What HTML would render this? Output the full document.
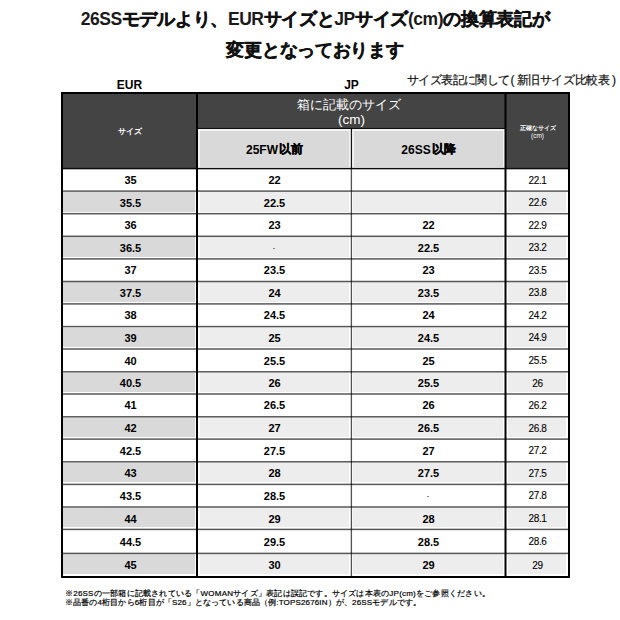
<!DOCTYPE html>
<html lang="ja"><head><meta charset="utf-8"><style>
*{margin:0;padding:0;box-sizing:border-box}
html,body{width:620px;height:620px;background:#fff;overflow:hidden}
body{position:relative;font-family:"Liberation Sans",sans-serif;color:#111}
.a{position:absolute}
.t{position:absolute;white-space:nowrap;text-align:center}
.c{position:absolute;display:flex;align-items:center;justify-content:center;white-space:nowrap}
.b{font-weight:bold;font-size:11px;color:#000}
.r{font-size:10px;letter-spacing:-0.4px;padding:0;color:#000;-webkit-text-stroke:0.1px #000}
.k{-webkit-text-stroke:0.45px #111;letter-spacing:-0.3px}
.l{letter-spacing:-0.45px}
.k2{-webkit-text-stroke:0.35px #000;margin-left:1px}
</style></head><body>

<div class="t" style="left:0;width:630px;top:4px;font-size:17.5px;font-weight:bold;line-height:31px;color:#1a1a1a"><span class="l">26SS</span><span class="k">モデルより、</span><span class="l">EUR</span><span class="k">サイズと</span><span class="l">JP</span><span class="k">サイズ</span><span class="l">(cm)</span><span class="k">の換算表記が</span><br><span class="k">変更となっております</span></div>
<div class="t b" style="left:63px;width:133px;top:78px;font-size:12px;line-height:14px">EUR</div>
<div class="t b" style="left:198px;width:307px;top:78px;font-size:12px;line-height:14px">JP</div>
<div class="t" style="left:407px;top:72px;font-size:12px;letter-spacing:-0.6px;line-height:16px;color:#111;-webkit-text-stroke:0.2px #111">サイズ表記に関して<span style="letter-spacing:0;margin:0 2px 0 1px">(</span><span style="letter-spacing:-0.4px">新旧サイズ比較表</span><span style="letter-spacing:0;margin-left:2.5px">)</span></div>
<div class="a" style="left:61px;top:92px;width:509px;height:77px;background:#444444"></div>
<div class="a" style="left:198px;top:129px;width:153px;height:39px;background:#f2f2f2"></div>
<div class="a" style="left:200px;top:131px;width:149px;height:36px;background:#d9d9d9"></div>
<div class="a" style="left:352px;top:129px;width:153px;height:39px;background:#f2f2f2"></div>
<div class="a" style="left:354px;top:131px;width:149px;height:36px;background:#d9d9d9"></div>
<div class="c" style="left:63px;top:94px;width:133px;height:74px;color:#fff;font-size:8px;font-weight:bold">サイズ</div>
<div class="t" style="left:198px;top:97px;width:307px;color:#fff;font-size:13px;line-height:15px"><span style="position:relative;left:-2.5px">箱に記載のサイズ</span><br><span style="font-size:13.5px">(cm)</span></div>
<div class="c b" style="left:198px;top:130px;width:153px;height:39px;font-size:12px">25FW<span class="k2">以前</span></div>
<div class="c b" style="left:352px;top:130px;width:153px;height:39px;font-size:12px">26SS<span class="k2">以降</span></div>
<div class="t" style="left:507px;top:123.5px;width:61px;color:#fff;font-size:6px;line-height:8px;font-weight:bold">正確なサイズ<br><span style="font-weight:normal;font-size:6.5px">(cm)</span></div>
<div class="a" style="left:63px;top:192px;width:132px;height:20px;background:#d9d9d9"></div>
<div class="a" style="left:200px;top:192px;width:149px;height:20px;background:#ededed"></div>
<div class="a" style="left:353px;top:192px;width:150px;height:20px;background:#ededed"></div>
<div class="a" style="left:508px;top:192px;width:58px;height:20px;background:#ededed"></div>
<div class="a" style="left:63px;top:237px;width:132px;height:20px;background:#d9d9d9"></div>
<div class="a" style="left:200px;top:237px;width:149px;height:20px;background:#ededed"></div>
<div class="a" style="left:353px;top:237px;width:150px;height:20px;background:#ededed"></div>
<div class="a" style="left:508px;top:237px;width:58px;height:20px;background:#ededed"></div>
<div class="a" style="left:63px;top:282px;width:132px;height:20px;background:#d9d9d9"></div>
<div class="a" style="left:200px;top:282px;width:149px;height:20px;background:#ededed"></div>
<div class="a" style="left:353px;top:282px;width:150px;height:20px;background:#ededed"></div>
<div class="a" style="left:508px;top:282px;width:58px;height:20px;background:#ededed"></div>
<div class="a" style="left:63px;top:328px;width:132px;height:19px;background:#d9d9d9"></div>
<div class="a" style="left:200px;top:328px;width:149px;height:19px;background:#ededed"></div>
<div class="a" style="left:353px;top:328px;width:150px;height:19px;background:#ededed"></div>
<div class="a" style="left:508px;top:328px;width:58px;height:19px;background:#ededed"></div>
<div class="a" style="left:63px;top:373px;width:132px;height:19px;background:#d9d9d9"></div>
<div class="a" style="left:200px;top:373px;width:149px;height:19px;background:#ededed"></div>
<div class="a" style="left:353px;top:373px;width:150px;height:19px;background:#ededed"></div>
<div class="a" style="left:508px;top:373px;width:58px;height:19px;background:#ededed"></div>
<div class="a" style="left:63px;top:418px;width:132px;height:19px;background:#d9d9d9"></div>
<div class="a" style="left:200px;top:418px;width:149px;height:19px;background:#ededed"></div>
<div class="a" style="left:353px;top:418px;width:150px;height:19px;background:#ededed"></div>
<div class="a" style="left:508px;top:418px;width:58px;height:19px;background:#ededed"></div>
<div class="a" style="left:63px;top:463px;width:132px;height:19px;background:#d9d9d9"></div>
<div class="a" style="left:200px;top:463px;width:149px;height:19px;background:#ededed"></div>
<div class="a" style="left:353px;top:463px;width:150px;height:19px;background:#ededed"></div>
<div class="a" style="left:508px;top:463px;width:58px;height:19px;background:#ededed"></div>
<div class="a" style="left:63px;top:508px;width:132px;height:19px;background:#d9d9d9"></div>
<div class="a" style="left:200px;top:508px;width:149px;height:19px;background:#ededed"></div>
<div class="a" style="left:353px;top:508px;width:150px;height:19px;background:#ededed"></div>
<div class="a" style="left:508px;top:508px;width:58px;height:19px;background:#ededed"></div>
<div class="a" style="left:63px;top:554px;width:132px;height:20px;background:#d9d9d9"></div>
<div class="a" style="left:200px;top:554px;width:149px;height:20px;background:#ededed"></div>
<div class="a" style="left:353px;top:554px;width:150px;height:20px;background:#ededed"></div>
<div class="a" style="left:508px;top:554px;width:58px;height:20px;background:#ededed"></div>
<div class="c b" style="left:64px;top:169px;width:133px;height:22px">35</div>
<div class="c b" style="left:198px;top:169px;width:153px;height:22px">22</div>
<div class="c r" style="left:507px;top:169px;width:61px;height:22px">22.1</div>
<div class="c b" style="left:64px;top:192px;width:133px;height:21px">35.5</div>
<div class="c b" style="left:198px;top:192px;width:153px;height:21px">22.5</div>
<div class="c r" style="left:507px;top:192px;width:61px;height:21px">22.6</div>
<div class="c b" style="left:64px;top:214px;width:133px;height:22px">36</div>
<div class="c b" style="left:198px;top:214px;width:153px;height:22px">23</div>
<div class="c b" style="left:352px;top:214px;width:153px;height:22px">22</div>
<div class="c r" style="left:507px;top:214px;width:61px;height:22px">22.9</div>
<div class="c b" style="left:64px;top:237px;width:133px;height:21px">36.5</div>
<div class="c" style="left:198px;top:237px;width:153px;height:21px"><span style="display:block;width:2px;height:1px;margin:2px 1px 0 0;background:#888"></span></div>
<div class="c b" style="left:352px;top:237px;width:153px;height:21px">22.5</div>
<div class="c r" style="left:507px;top:237px;width:61px;height:21px">23.2</div>
<div class="c b" style="left:64px;top:259px;width:133px;height:22px">37</div>
<div class="c b" style="left:198px;top:259px;width:153px;height:22px">23.5</div>
<div class="c b" style="left:352px;top:259px;width:153px;height:22px">23</div>
<div class="c r" style="left:507px;top:259px;width:61px;height:22px">23.5</div>
<div class="c b" style="left:64px;top:282px;width:133px;height:21px">37.5</div>
<div class="c b" style="left:198px;top:282px;width:153px;height:21px">24</div>
<div class="c b" style="left:352px;top:282px;width:153px;height:21px">23.5</div>
<div class="c r" style="left:507px;top:282px;width:61px;height:21px">23.8</div>
<div class="c b" style="left:64px;top:304px;width:133px;height:22px">38</div>
<div class="c b" style="left:198px;top:304px;width:153px;height:22px">24.5</div>
<div class="c b" style="left:352px;top:304px;width:153px;height:22px">24</div>
<div class="c r" style="left:507px;top:304px;width:61px;height:22px">24.2</div>
<div class="c b" style="left:64px;top:327px;width:133px;height:21px">39</div>
<div class="c b" style="left:198px;top:327px;width:153px;height:21px">25</div>
<div class="c b" style="left:352px;top:327px;width:153px;height:21px">24.5</div>
<div class="c r" style="left:507px;top:327px;width:61px;height:21px">24.9</div>
<div class="c b" style="left:64px;top:350px;width:133px;height:21px">40</div>
<div class="c b" style="left:198px;top:350px;width:153px;height:21px">25.5</div>
<div class="c b" style="left:352px;top:350px;width:153px;height:21px">25</div>
<div class="c r" style="left:507px;top:350px;width:61px;height:21px">25.5</div>
<div class="c b" style="left:64px;top:372px;width:133px;height:22px">40.5</div>
<div class="c b" style="left:198px;top:372px;width:153px;height:22px">26</div>
<div class="c b" style="left:352px;top:372px;width:153px;height:22px">25.5</div>
<div class="c r" style="left:507px;top:372px;width:61px;height:22px">26</div>
<div class="c b" style="left:64px;top:394px;width:133px;height:22px">41</div>
<div class="c b" style="left:198px;top:394px;width:153px;height:22px">26.5</div>
<div class="c b" style="left:352px;top:394px;width:153px;height:22px">26</div>
<div class="c r" style="left:507px;top:394px;width:61px;height:22px">26.2</div>
<div class="c b" style="left:64px;top:417px;width:133px;height:22px">42</div>
<div class="c b" style="left:198px;top:417px;width:153px;height:22px">27</div>
<div class="c b" style="left:352px;top:417px;width:153px;height:22px">26.5</div>
<div class="c r" style="left:507px;top:417px;width:61px;height:22px">26.8</div>
<div class="c b" style="left:64px;top:440px;width:133px;height:21px">42.5</div>
<div class="c b" style="left:198px;top:440px;width:153px;height:21px">27.5</div>
<div class="c b" style="left:352px;top:440px;width:153px;height:21px">27</div>
<div class="c r" style="left:507px;top:440px;width:61px;height:21px">27.2</div>
<div class="c b" style="left:64px;top:462px;width:133px;height:22px">43</div>
<div class="c b" style="left:198px;top:462px;width:153px;height:22px">28</div>
<div class="c b" style="left:352px;top:462px;width:153px;height:22px">27.5</div>
<div class="c r" style="left:507px;top:462px;width:61px;height:22px">27.5</div>
<div class="c b" style="left:64px;top:485px;width:133px;height:21px">43.5</div>
<div class="c b" style="left:198px;top:485px;width:153px;height:21px">28.5</div>
<div class="c" style="left:352px;top:485px;width:153px;height:21px"><span style="display:block;width:2px;height:1px;margin:2px 1px 0 0;background:#888"></span></div>
<div class="c r" style="left:507px;top:485px;width:61px;height:21px">27.8</div>
<div class="c b" style="left:64px;top:508px;width:133px;height:21px">44</div>
<div class="c b" style="left:198px;top:508px;width:153px;height:21px">29</div>
<div class="c b" style="left:352px;top:508px;width:153px;height:21px">28</div>
<div class="c r" style="left:507px;top:508px;width:61px;height:21px">28.1</div>
<div class="c b" style="left:64px;top:530px;width:133px;height:23px">44.5</div>
<div class="c b" style="left:198px;top:530px;width:153px;height:23px">29.5</div>
<div class="c b" style="left:352px;top:530px;width:153px;height:23px">28.5</div>
<div class="c r" style="left:507px;top:530px;width:61px;height:23px">28.6</div>
<div class="c b" style="left:64px;top:554px;width:133px;height:22px">45</div>
<div class="c b" style="left:198px;top:554px;width:153px;height:22px">30</div>
<div class="c b" style="left:352px;top:554px;width:153px;height:22px">29</div>
<div class="c r" style="left:507px;top:554px;width:61px;height:22px">29</div>
<div class="a" style="left:61px;top:190px;width:509px;height:1px;background:rgba(0,0,0,0.429)"></div>
<div class="a" style="left:61px;top:191px;width:509px;height:1px;background:rgba(0,0,0,0.561)"></div>
<div class="a" style="left:61px;top:212px;width:509px;height:1px;background:rgba(0,0,0,0.033)"></div>
<div class="a" style="left:61px;top:213px;width:509px;height:1px;background:rgba(0,0,0,0.660)"></div>
<div class="a" style="left:61px;top:214px;width:509px;height:1px;background:rgba(0,0,0,0.297)"></div>
<div class="a" style="left:61px;top:235px;width:509px;height:1px;background:rgba(0,0,0,0.297)"></div>
<div class="a" style="left:61px;top:236px;width:509px;height:1px;background:rgba(0,0,0,0.660)"></div>
<div class="a" style="left:61px;top:237px;width:509px;height:1px;background:rgba(0,0,0,0.033)"></div>
<div class="a" style="left:61px;top:258px;width:509px;height:1px;background:rgba(0,0,0,0.561)"></div>
<div class="a" style="left:61px;top:259px;width:509px;height:1px;background:rgba(0,0,0,0.429)"></div>
<div class="a" style="left:61px;top:280px;width:509px;height:1px;background:rgba(0,0,0,0.165)"></div>
<div class="a" style="left:61px;top:281px;width:509px;height:1px;background:rgba(0,0,0,0.660)"></div>
<div class="a" style="left:61px;top:282px;width:509px;height:1px;background:rgba(0,0,0,0.165)"></div>
<div class="a" style="left:61px;top:303px;width:509px;height:1px;background:rgba(0,0,0,0.561)"></div>
<div class="a" style="left:61px;top:304px;width:509px;height:1px;background:rgba(0,0,0,0.429)"></div>
<div class="a" style="left:61px;top:325px;width:509px;height:1px;background:rgba(0,0,0,0.099)"></div>
<div class="a" style="left:61px;top:326px;width:509px;height:1px;background:rgba(0,0,0,0.660)"></div>
<div class="a" style="left:61px;top:327px;width:509px;height:1px;background:rgba(0,0,0,0.231)"></div>
<div class="a" style="left:61px;top:348px;width:509px;height:1px;background:rgba(0,0,0,0.495)"></div>
<div class="a" style="left:61px;top:349px;width:509px;height:1px;background:rgba(0,0,0,0.495)"></div>
<div class="a" style="left:61px;top:371px;width:509px;height:1px;background:rgba(0,0,0,0.627)"></div>
<div class="a" style="left:61px;top:372px;width:509px;height:1px;background:rgba(0,0,0,0.363)"></div>
<div class="a" style="left:61px;top:393px;width:509px;height:1px;background:rgba(0,0,0,0.495)"></div>
<div class="a" style="left:61px;top:394px;width:509px;height:1px;background:rgba(0,0,0,0.495)"></div>
<div class="a" style="left:61px;top:416px;width:509px;height:1px;background:rgba(0,0,0,0.627)"></div>
<div class="a" style="left:61px;top:417px;width:509px;height:1px;background:rgba(0,0,0,0.363)"></div>
<div class="a" style="left:61px;top:438px;width:509px;height:1px;background:rgba(0,0,0,0.429)"></div>
<div class="a" style="left:61px;top:439px;width:509px;height:1px;background:rgba(0,0,0,0.561)"></div>
<div class="a" style="left:61px;top:461px;width:509px;height:1px;background:rgba(0,0,0,0.627)"></div>
<div class="a" style="left:61px;top:462px;width:509px;height:1px;background:rgba(0,0,0,0.363)"></div>
<div class="a" style="left:61px;top:483px;width:509px;height:1px;background:rgba(0,0,0,0.231)"></div>
<div class="a" style="left:61px;top:484px;width:509px;height:1px;background:rgba(0,0,0,0.660)"></div>
<div class="a" style="left:61px;top:485px;width:509px;height:1px;background:rgba(0,0,0,0.099)"></div>
<div class="a" style="left:61px;top:506px;width:509px;height:1px;background:rgba(0,0,0,0.495)"></div>
<div class="a" style="left:61px;top:507px;width:509px;height:1px;background:rgba(0,0,0,0.495)"></div>
<div class="a" style="left:61px;top:528px;width:509px;height:1px;background:rgba(0,0,0,0.231)"></div>
<div class="a" style="left:61px;top:529px;width:509px;height:1px;background:rgba(0,0,0,0.660)"></div>
<div class="a" style="left:61px;top:530px;width:509px;height:1px;background:rgba(0,0,0,0.099)"></div>
<div class="a" style="left:61px;top:552px;width:509px;height:1px;background:rgba(0,0,0,0.231)"></div>
<div class="a" style="left:61px;top:553px;width:509px;height:1px;background:rgba(0,0,0,0.660)"></div>
<div class="a" style="left:61px;top:554px;width:509px;height:1px;background:rgba(0,0,0,0.099)"></div>
<div class="a" style="left:61px;top:167px;width:509px;height:1px;background:rgba(0,0,0,0.128)"></div>
<div class="a" style="left:61px;top:168px;width:509px;height:1px;background:rgba(0,0,0,0.850)"></div>
<div class="a" style="left:61px;top:169px;width:509px;height:1px;background:rgba(0,0,0,0.297)"></div>
<div class="a" style="left:198px;top:127px;width:307px;height:1px;background:rgba(0,0,0,0.090)"></div>
<div class="a" style="left:198px;top:128px;width:307px;height:1px;background:rgba(0,0,0,0.810)"></div>
<div class="a" style="left:350px;top:128px;width:1px;height:449px;background:rgba(0,0,0,0.170)"></div>
<div class="a" style="left:351px;top:128px;width:1px;height:449px;background:rgba(0,0,0,0.680)"></div>
<div class="a" style="left:352px;top:128px;width:1px;height:449px;background:rgba(0,0,0,0.034)"></div>
<div class="a" style="left:196px;top:92px;width:1px;height:486px;background:rgba(0,0,0,1.000)"></div>
<div class="a" style="left:197px;top:92px;width:1px;height:486px;background:rgba(0,0,0,1.000)"></div>
<div class="a" style="left:504px;top:92px;width:1px;height:486px;background:rgba(0,0,0,0.500)"></div>
<div class="a" style="left:505px;top:92px;width:1px;height:486px;background:rgba(0,0,0,1.000)"></div>
<div class="a" style="left:506px;top:92px;width:1px;height:486px;background:rgba(0,0,0,0.500)"></div>
<div class="a" style="left:61px;top:92px;width:1px;height:486px;background:rgba(0,0,0,1.000)"></div>
<div class="a" style="left:62px;top:92px;width:1px;height:486px;background:rgba(0,0,0,1.000)"></div>
<div class="a" style="left:568px;top:92px;width:1px;height:486px;background:rgba(0,0,0,1.000)"></div>
<div class="a" style="left:569px;top:92px;width:1px;height:486px;background:rgba(0,0,0,1.000)"></div>
<div class="a" style="left:61px;top:92px;width:509px;height:1px;background:rgba(0,0,0,1.000)"></div>
<div class="a" style="left:61px;top:93px;width:509px;height:1px;background:rgba(0,0,0,1.000)"></div>
<div class="a" style="left:61px;top:576px;width:509px;height:1px;background:rgba(0,0,0,1.000)"></div>
<div class="a" style="left:61px;top:577px;width:509px;height:1px;background:rgba(0,0,0,1.000)"></div>
<div class="a" style="left:65px;top:588.5px;font-size:8px;line-height:9.5px;color:#000;-webkit-text-stroke:0.2px #000;white-space:nowrap"><span style="letter-spacing:0.22px">※26SSの一部箱に記載されている「WOMANサイズ」表記は誤記です。サイズは本表のJP(cm)をご参照ください。</span><br><span style="letter-spacing:0.15px">※品番の4桁目から6桁目が「S26」となっている商品（例:TOPS2676IN）が、26SSモデルです。</span></div>
</body></html>
